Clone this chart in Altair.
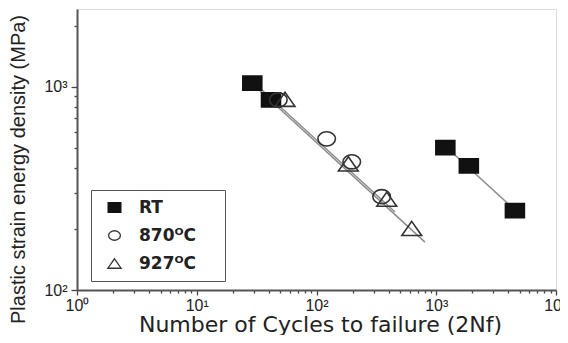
import altair as alt
import pandas as pd

# ---- data ----
series = ["RT", "870ᴼC", "927ᴼC"]

rt_cycles = [29.1, 41.7, 1191, 1871, 4538]
rt_energy = [1043, 863, 502, 409, 246]

c870_cycles = [48, 121.6, 197, 350]
c870_energy = [863, 555, 428, 288]

c927_cycles = [54.6, 184.5, 386, 624]
c927_energy = [869, 418, 280, 201]

# fitted lines (end points)
line_ids = ["RT", "RT", "870", "870", "927", "927"]
line_cycles = [1191, 4538, 35, 453, 30.6, 805]
line_energy = [510, 248, 966, 242, 1011, 172]

x_ticks = [1, 2, 3, 4, 5, 6, 7, 8, 9,
           10, 20, 30, 40, 50, 60, 70, 80, 90,
           100, 200, 300, 400, 500, 600, 700, 800, 900,
           1000, 2000, 3000, 4000, 5000, 6000, 7000, 8000, 9000, 10000]
y_ticks = [100, 200, 300, 400, 500, 600, 700, 800, 900, 1000, 2000]

# ---- tables ----
pts = pd.DataFrame({
    "cycles": rt_cycles + c870_cycles + c927_cycles,
    "energy": rt_energy + c870_energy + c927_energy,
    "series": [series[0]] * len(rt_cycles) + [series[1]] * len(c870_cycles) + [series[2]] * len(c927_cycles),
})
lines = pd.DataFrame({"id": line_ids, "cycles": line_cycles, "energy": line_energy})

label_expr = ("datum.value == 1 ? '10⁰' : datum.value == 10 ? '10¹' : datum.value == 100 ? '10²' : "
              "datum.value == 1000 ? '10³' : datum.value == 10000 ? '10⁴' : ''")
major_test = "indexof([1, 10, 100, 1000, 10000], datum.value) >= 0"

x_scale = alt.Scale(type="log", domain=[1, 10000])
y_scale = alt.Scale(type="log", domain=[100, 2420])

x_axis = alt.Axis(
    title="Number of Cycles to failure (2Nf)",
    values=x_ticks, labelExpr=label_expr, labelOverlap=False, labelFlush=False,
    tickSize={"condition": {"test": major_test, "value": 5}, "value": 3},
    grid=False, labelFont="Liberation Sans", labelFontSize=16, labelColor="#222",
    labelPadding=2, titleFont="DejaVu Sans", titleFontSize=22, titleFontWeight="normal",
    titleColor="#222", titleBaseline="alphabetic", titleX=243, titleY=41,
    domainColor="#555", domainWidth=2, tickColor="#444", tickWidth=1.3,
)
y_axis = alt.Axis(
    title="Plastic strain energy density (MPa)",
    values=y_ticks, labelExpr=label_expr, labelOverlap=False, labelFlush=False,
    tickSize={"condition": {"test": major_test, "value": 6}, "value": 3},
    grid=False, labelFont="Liberation Sans", labelFontSize=16, labelColor="#222",
    labelPadding=4, titleFont="Liberation Sans", titleFontSize=20, titleFontWeight="normal",
    titleColor="#222", titleBaseline="alphabetic", titleX=-53, titleY=160,
    domainColor="#555", domainWidth=2, tickColor="#444", tickWidth=1.3,
)

square = "M-1.34,-1L1.34,-1L1.34,1L-1.34,1Z"
ellipse = "M-1.24,0A1.24,1,0,1,0,1.24,0A1.24,1,0,1,0,-1.24,0Z"
triangle = "M0,-1L1.4,1L-1.4,1Z"

line_layer = alt.Chart(lines).mark_line(color="#8c8c8c", strokeWidth=1.5).encode(
    x=alt.X("cycles:Q", scale=x_scale, axis=x_axis),
    y=alt.Y("energy:Q", scale=y_scale, axis=y_axis),
    detail="id:N",
)

# white spacer title on the right widens the legend box like the reference
legend = alt.Legend(
    title="ww", titleOrient="right", titlePadding=1, titleFontSize=10,
    titleColor="white", titleFont="DejaVu Sans",
    orient="none", legendX=14, legendY=181,
    strokeColor="#555", padding=9, symbolSize=90, symbolOffset=6, labelOffset=16,
    rowPadding=10, labelFont="DejaVu Sans", labelFontSize=17, labelFontWeight="bold",
    labelColor="#222", symbolStrokeWidth=1.3,
)

point_layer = alt.Chart(pts).mark_point(strokeWidth=1.6, opacity=1).encode(
    x=alt.X("cycles:Q", scale=x_scale, axis=x_axis),
    y=alt.Y("energy:Q", scale=y_scale, axis=y_axis),
    shape=alt.Shape("series:N", scale=alt.Scale(domain=series, range=[square, ellipse, triangle]), legend=legend),
    fill=alt.Fill("series:N", scale=alt.Scale(domain=series, range=["#111111", "transparent", "transparent"]), legend=legend),
    stroke=alt.Stroke("series:N", scale=alt.Scale(domain=series, range=["#111111", "#333333", "#333333"]), legend=legend),
    size=alt.value(200),
)

chart = alt.layer(line_layer, point_layer).properties(
    width=479, height=281,
    autosize=alt.AutoSizeParams(type="none"),
    padding={"left": 69, "top": 1, "right": 4, "bottom": 45},
).configure_view(stroke="#555", strokeWidth=2).configure(background="white")

chart.save("out.html", embed_options={"renderer": "svg", "actions": False})
